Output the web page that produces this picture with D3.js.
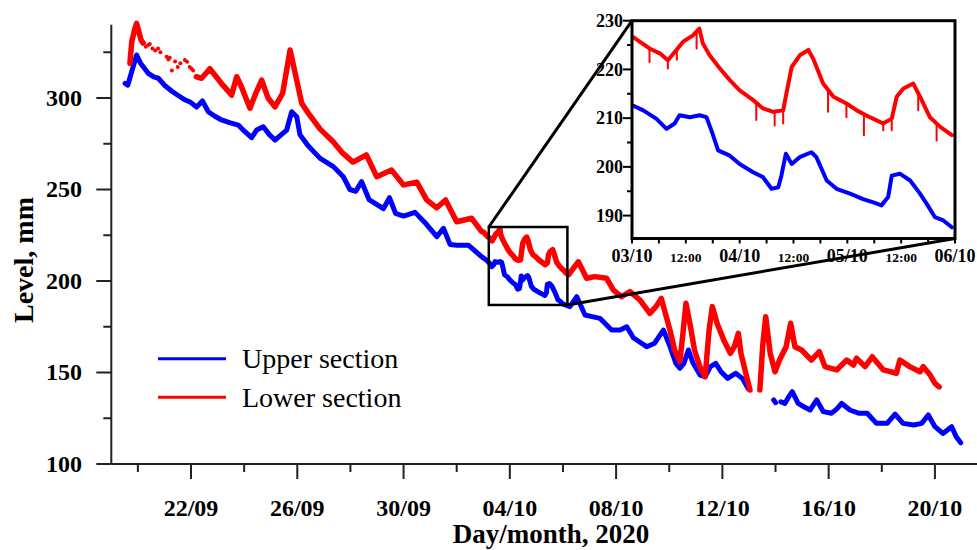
<!DOCTYPE html>
<html><head><meta charset="utf-8">
<script src="https://cdn.jsdelivr.net/npm/d3@7"></script>
<style>body{margin:0;background:#fff}svg{display:block}</style>
</head><body>
<svg id="c" width="977" height="550"></svg>
<script>
// ---------------- DATA ----------------
// main series: [days since 19/09/2020 00:00, level mm]
const upperBefore = [[0.52,308],[0.62,307],[0.78,315],[0.955,323.5],[1.1,319],[1.39,313.5],[1.6,311.5],[1.77,310.8],[2.0,307],[2.27,303.8],[2.5,301.5],[2.77,299],[3.0,297.5],[3.21,295],[3.43,298.4],[3.65,292.5],[3.9,290],[4.15,288],[4.45,286.5],[4.78,285.2],[5.0,282],[5.28,278.3],[5.47,282.5],[5.72,284.3],[5.95,280],[6.16,277],[6.4,280],[6.6,282.5],[6.79,292.5],[6.98,289.8],[7.1,280],[7.4,274],[7.86,267],[8.36,262.5],[8.73,257],[8.98,250],[9.2,249],[9.42,254.3],[9.7,244.5],[10.24,239.5],[10.47,245.5],[10.7,237],[11.0,235.5],[11.43,237.5],[11.8,232],[12.25,224.2],[12.5,228.8],[12.75,220],[13.0,219.5],[13.44,219.6],[13.88,214]];
const upperAfter = [[17.26,186],[17.52,191.4],[17.83,181.4],[18.1,180.5],[18.39,179.6],[18.83,173.2],[19.15,173.2],[19.4,175],[19.65,169],[19.9,166.5],[20.15,164.1],[20.45,166],[20.78,173.2],[21.03,164.1],[21.25,155],[21.4,152.3],[21.55,155],[21.72,162.3],[21.9,155],[22.16,148.6],[22.35,147.7],[22.55,153.2],[22.75,155],[22.95,150.4],[23.2,146.8],[23.5,149.6],[23.75,146.8],[23.98,141]];
const upperPiece = [[24.93,135],[25.0,133.5]];
const upperTail = [[25.2,134],[25.35,133.1],[25.5,136.8],[25.63,139.5],[25.85,133.1],[26.1,131],[26.3,129.5],[26.55,135],[26.8,128.6],[27.1,127.7],[27.3,130],[27.49,133.1],[27.8,129.5],[28.15,127.7],[28.45,127.7],[28.8,122.2],[29.2,122.2],[29.5,127.3],[29.8,122.2],[30.2,121.3],[30.5,122.2],[30.75,126.8],[31.0,120.4],[31.3,116.7],[31.63,120.4],[31.8,114.9],[31.97,111.6]];

const lowerHead = [[0.7,319],[0.77,330.8],[0.89,338],[0.955,340.8],[1.02,337.2],[1.12,331.7],[1.2,330]];
const lowerSparse = [[1.3,328],[1.39,329],[1.45,329.5],[1.55,327],[1.65,326],[1.76,327],[1.85,325],[2.08,322.6],[2.15,321],[2.2,322],[2.28,315],[2.4,320],[2.5,317],[2.6,319],[2.77,320.8],[2.85,319.8],[2.95,317],[3.02,316],[3.08,315]];
const lowerBefore = [[3.2,311.6],[3.4,310.8],[3.71,316],[3.95,311.6],[4.2,307],[4.53,301.6],[4.72,311.6],[4.9,306],[5.22,294.4],[5.45,303],[5.66,309.8],[5.9,300],[6.16,295.2],[6.45,302.6],[6.73,326.2],[6.95,311.6],[7.17,297],[7.4,292],[7.86,283],[8.36,276],[8.7,270],[9.1,265],[9.6,268.9],[9.99,257],[10.55,260.6],[11.0,252.5],[11.5,254],[11.87,244.3],[12.25,240],[12.58,244.3],[13.0,232.4],[13.56,234.3],[13.94,227]];
const lowerAfter = [[17.2,203.3],[17.58,210.5],[17.89,201.5],[18.2,202.4],[18.64,201.5],[18.9,195],[19.2,191.4],[19.52,194.2],[19.9,189.6],[20.27,182.3],[20.5,186],[20.7,190.5],[21.03,173],[21.2,162.3],[21.4,156],[21.52,172],[21.63,187.8],[21.8,175],[21.95,162.3],[22.15,153.2],[22.35,147.7],[22.5,173.2],[22.62,186],[22.8,176.9],[23.05,167.8],[23.3,160.5],[23.45,164.1],[23.6,171.4],[23.7,160.5],[23.88,149.6],[24.04,140.4]];
const lowerTail = [[24.41,140.4],[24.52,165],[24.63,180.5],[24.8,160.5],[24.98,150.4],[25.15,156.8],[25.4,164.1],[25.57,176.9],[25.73,164.1],[25.98,162.3],[26.35,156.8],[26.65,161.4],[26.86,153.2],[27.3,151.4],[27.68,156.8],[27.93,154.1],[28.05,157.8],[28.37,153.2],[28.64,158.6],[29.06,151.4],[29.55,149.6],[29.68,156.8],[30.05,153.2],[30.44,150.4],[30.56,153.2],[30.82,148.6],[31.0,144.1],[31.16,142.2]];

// inset (detail) series: [hours since 03/10/2020 00:00, level mm]
const insetUpper = [[0.2,212.6],[2.5,211.6],[5.4,209.9],[7.7,207.8],[9.5,208.9],[10.6,210.6],[12.9,210.2],[15.1,210.6],[16.6,210.2],[17.7,207.5],[19.2,203.4],[21.8,202.3],[24,200.6],[27,198.9],[29.2,197.9],[31.1,195.5],[32.6,195.8],[33.3,198.2],[34.3,202.7],[35.6,200.6],[37.4,202],[40,203],[41.1,202],[43.4,197.2],[45.6,195.5],[48.6,194.5],[51.5,193.4],[53.8,192.7],[55.6,192.1],[57.1,193.8],[57.9,198.2],[59.7,198.6],[62,197.2],[64.2,194.5],[65.7,192.4],[67.5,189.7],[69.4,189],[71.3,187.6]];
const insetLower = [[0.2,226.7],[1.7,225.7],[3.9,224.3],[6.2,223.3],[8,221.9],[9.9,224],[11.4,225.7],[13.6,227],[15,228.4],[15.8,225.3],[17.3,222.9],[19.6,220.2],[21.8,217.8],[24,215.7],[27,213.7],[29.2,212],[31.5,211.3],[33.7,211.6],[34.4,215],[35.6,220.5],[37.4,222.9],[39.3,224],[40.4,222.2],[42.6,217.1],[44.9,214.4],[47.8,213],[50.1,211.6],[53,210.2],[56,208.9],[57.9,209.9],[59,214.4],[60.5,216.1],[62.7,217.1],[64.2,214.4],[66.4,210.2],[68.7,208.2],[71.3,206.5]];
const insetLowerDrops = [[3.9,221.5],[8,220.2],[10,222],[14.4,224.3],[27.7,209.6],[31.8,208.5],[33.7,208.9],[43.7,211.3],[47.8,210.2],[51.7,206.5],[56,207.5],[57.9,207.5],[63.8,211.6],[67.9,205.4]];

// ticks / labels
const xMajorLabels = ["22/09","26/09","30/09","04/10","08/10","12/10","16/10","20/10"];
const xMinorLabels = ["20/09","24/09","28/09","02/10","06/10","10/10","14/10","18/10"];
const yMajor = [100,150,200,250,300];
const yMinor = [125,175,225,275,325];
const insetDayLabels = ["03/10","04/10","05/10","06/10"];
const insetYMajor = [190,200,210,220,230];
const insetYMinor = [195,205,215,225];
const seriesNames = ["Upper section","Lower section"];
const seriesColors = ["#0000ff","#ff0000"];
// zoom window drawn on main chart (as seen in the figure)
const zoomWindow = {from:[3,10,5], to:[6,10,4.5], low:186.9, high:229.5};

// ---------------- DRAW ----------------
const svg = d3.select("#c");
const day = 864e5;
const start = new Date(2020,8,19);
const insetStart = new Date(2020,9,3);
const dd = d => new Date(start.getTime() + d*day);
const hh = h => new Date(insetStart.getTime() + h*3600e3);
const parseDM = s => { const [d,m] = s.split("/").map(Number); return new Date(2020,m-1,d); };

const x = d3.scaleTime().domain([start, new Date(2020,9,21,14)]).range([111.3, 977]);
const y = d3.scaleLinear().domain([100,340]).range([464, 24.8]);

const serif = "'Liberation Serif','Times New Roman',serif";
const axisCol = "#222";

// axes
const gAx = svg.append("g");
gAx.append("line").attr("x1",x.range()[0]).attr("x2",977).attr("y1",y(100)).attr("y2",y(100)).attr("stroke",axisCol).attr("stroke-width",2);
gAx.append("line").attr("x1",x.range()[0]).attr("x2",x.range()[0]).attr("y1",y(100)).attr("y2",y.range()[1]).attr("stroke",axisCol).attr("stroke-width",2);
xMajorLabels.forEach(s => {
  const px = x(parseDM(s));
  gAx.append("line").attr("x1",px).attr("x2",px).attr("y1",y(100)).attr("y2",y(100)+15).attr("stroke",axisCol).attr("stroke-width",2);
  gAx.append("text").attr("x",px).attr("y",515.5).attr("text-anchor","middle").attr("font-family",serif).attr("font-weight","bold").attr("font-size",24).text(s);
});
xMinorLabels.forEach(s => {
  const px = x(parseDM(s));
  gAx.append("line").attr("x1",px).attr("x2",px).attr("y1",y(100)).attr("y2",y(100)+8).attr("stroke",axisCol).attr("stroke-width",2);
});
yMajor.forEach(v => {
  gAx.append("line").attr("x1",x.range()[0]-15).attr("x2",x.range()[0]).attr("y1",y(v)).attr("y2",y(v)).attr("stroke",axisCol).attr("stroke-width",2);
  gAx.append("text").attr("x",82).attr("y",y(v)).attr("dy","0.33em").attr("text-anchor","end").attr("font-family",serif).attr("font-weight","bold").attr("font-size",24).text(v);
});
yMinor.forEach(v => {
  gAx.append("line").attr("x1",x.range()[0]-8).attr("x2",x.range()[0]).attr("y1",y(v)).attr("y2",y(v)).attr("stroke",axisCol).attr("stroke-width",2);
});
svg.append("text").attr("x",551).attr("y",543).attr("text-anchor","middle").attr("font-family",serif).attr("font-weight","bold").attr("font-size",27).text("Day/month, 2020");
svg.append("text").attr("transform","translate(33,260) rotate(-90)").attr("text-anchor","middle").attr("font-family",serif).attr("font-weight","bold").attr("font-size",28).text("Level, mm");

// main lines
const line = d3.line().x(p => x(dd(p[0]))).y(p => y(p[1]));
const toDays = arr => arr.map(p => [14 + p[0]/24, p[1]]);
const upperSegs = [upperBefore.concat(toDays(insetUpper), upperAfter), upperPiece, upperTail];
const lowerSegs = [lowerHead, lowerBefore.concat(toDays(insetLower), lowerAfter), lowerTail];
const gL = svg.append("g").attr("fill","none").attr("stroke-linejoin","round").attr("stroke-linecap","round");
upperSegs.forEach(s => gL.append("path").attr("d",line(s)).attr("stroke",seriesColors[0]).attr("stroke-width",5));
lowerSegs.forEach(s => gL.append("path").attr("d",line(s)).attr("stroke",seriesColors[1]).attr("stroke-width",5.5));
svg.append("g").selectAll("circle").data(lowerSparse).join("circle")
  .attr("cx",p=>x(dd(p[0]))).attr("cy",p=>y(p[1])).attr("r",2).attr("fill",seriesColors[1]);

// legend
seriesNames.forEach((n,i) => {
  const ly = 358.7 + i*38.5;
  svg.append("line").attr("x1",158).attr("x2",226).attr("y1",ly).attr("y2",ly).attr("stroke",seriesColors[i]).attr("stroke-width",3);
  svg.append("text").attr("x",242).attr("y",ly+9.5).attr("font-family",serif).attr("font-size",28).text(n);
});

// inset
const ix = d3.scaleTime().domain([insetStart, new Date(2020,9,6)]).range([632, 955]);
const iy = d3.scaleLinear().domain([185.3,230]).range([238.5, 20.7]);
const gI = svg.append("g");
gI.append("rect").attr("x",632).attr("y",iy(230)).attr("width",955-632).attr("height",iy(185.3)-iy(230)).attr("fill","#fff");
svg.append("clipPath").attr("id","ic").append("rect").attr("x",632).attr("y",iy(230)).attr("width",955-632).attr("height",iy(185.3)-iy(230));
const iline = d3.line().x(p => ix(hh(p[0]))).y(p => iy(p[1]));
const gIL = gI.append("g").attr("clip-path","url(#ic)").attr("fill","none").attr("stroke-linejoin","round").attr("stroke-linecap","round");
gIL.append("path").attr("d",iline(insetUpper)).attr("stroke",seriesColors[0]).attr("stroke-width",4);
gIL.append("path").attr("d",iline(insetLower)).attr("stroke",seriesColors[1]).attr("stroke-width",4);
// value of the lower inset line at hour h (for drop-out dashes)
const lowerAt = h => {
  const i = Math.max(1, Math.min(insetLower.length-1, d3.bisector(p=>p[0]).left(insetLower, h)));
  const a = insetLower[i-1], b = insetLower[i];
  return a[1] + (b[1]-a[1]) * (h-a[0])/(b[0]-a[0]);
};
gIL.selectAll("line.drop").data(insetLowerDrops).join("line").attr("class","drop")
  .attr("x1",p=>ix(hh(p[0]))).attr("x2",p=>ix(hh(p[0])))
  .attr("y1",p=>iy(lowerAt(p[0]))).attr("y2",p=>iy(p[1]))
  .attr("stroke",seriesColors[1]).attr("stroke-width",2);
gI.append("rect").attr("x",632).attr("y",iy(230)).attr("width",955-632).attr("height",iy(185.3)-iy(230)).attr("fill","none").attr("stroke","#000").attr("stroke-width",3);
// inset ticks
d3.range(0,73,6).forEach(h => {
  const px = ix(hh(h));
  gI.append("line").attr("x1",px).attr("x2",px).attr("y1",iy(185.3)).attr("y2",iy(185.3)+5).attr("stroke","#000").attr("stroke-width",2);
  if (h % 24 === 12) gI.append("text").attr("x",px).attr("y",262).attr("text-anchor","middle").attr("font-family",serif).attr("font-weight","bold").attr("font-size",13.5).text("12:00");
});
insetDayLabels.forEach(s => {
  gI.append("text").attr("x",ix(parseDM(s))).attr("y",262).attr("text-anchor","middle").attr("font-family",serif).attr("font-weight","bold").attr("font-size",18).text(s);
});
insetYMajor.forEach(v => {
  gI.append("line").attr("x1",623).attr("x2",632).attr("y1",iy(v)).attr("y2",iy(v)).attr("stroke","#000").attr("stroke-width",2);
  gI.append("text").attr("x",623).attr("y",iy(v)).attr("dy","0.34em").attr("text-anchor","end").attr("font-family",serif).attr("font-weight","bold").attr("font-size",18).text(v);
});
insetYMinor.forEach(v => {
  gI.append("line").attr("x1",627).attr("x2",632).attr("y1",iy(v)).attr("y2",iy(v)).attr("stroke","#000").attr("stroke-width",2);
});

// zoom window + connectors
const zx0 = x(new Date(2020, zoomWindow.from[1]-1, zoomWindow.from[0], zoomWindow.from[2]));
const zx1 = x(new Date(2020, zoomWindow.to[1]-1, zoomWindow.to[0], zoomWindow.to[2]));
const zy0 = y(zoomWindow.high), zy1 = y(zoomWindow.low);
svg.append("rect").attr("x",zx0).attr("y",zy0).attr("width",zx1-zx0).attr("height",zy1-zy0).attr("fill","none").attr("stroke","#000").attr("stroke-width",2.5);
svg.append("line").attr("x1",zx0).attr("y1",zy0).attr("x2",632).attr("y2",iy(230)).attr("stroke","#000").attr("stroke-width",3);
svg.append("line").attr("x1",zx1).attr("y1",zy1).attr("x2",955).attr("y2",iy(185.3)).attr("stroke","#000").attr("stroke-width",3);
</script>
</body></html>
